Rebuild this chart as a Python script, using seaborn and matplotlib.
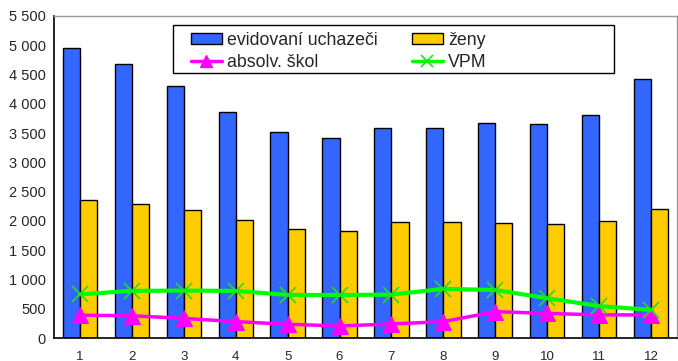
import matplotlib.pyplot as plt
import matplotlib.ticker as mticker
from matplotlib.lines import Line2D
from matplotlib.patches import Rectangle
import seaborn as sns
import numpy as np
import pandas as pd

# Data (months 1-12)
mesice = [str(m) for m in range(1, 13)]
evidovani = [4960, 4685, 4310, 3855, 3525, 3410, 3590, 3580, 3670, 3660, 3810, 4425]
zeny = [2350, 2295, 2185, 2015, 1865, 1835, 1985, 1985, 1970, 1955, 1995, 2210]
absolv = [390, 380, 335, 280, 235, 205, 240, 280, 450, 420, 395, 395]
vpm = [745, 805, 810, 805, 735, 735, 740, 840, 820, 680, 545, 480]

BLUE, YELLOW, MAGENTA, GREEN = "#3366FF", "#FFCC00", "#FF00FF", "#00FF00"

sns.set_style("white")
plt.rcParams['font.family'] = ['Liberation Sans', 'DejaVu Sans']

df = pd.DataFrame({
    "mesic": mesice * 2,
    "pocet": evidovani + zeny,
    "serie": ["evidovaní uchazeči"] * 12 + ["ženy"] * 12,
})

fig = plt.figure(figsize=(6.78, 3.61), dpi=100)
ax = fig.add_axes([0.0796, 0.0637, 0.919, 0.892])

sns.barplot(data=df, x="mesic", y="pocet", hue="serie",
            palette=[BLUE, YELLOW], saturation=1, width=0.66, gap=0,
            edgecolor="black", linewidth=1, ax=ax, legend=False)

sns.lineplot(x=mesice, y=absolv, color=MAGENTA, lw=2.5, marker="^",
             markersize=11, markeredgecolor=MAGENTA, ax=ax)
sns.lineplot(x=mesice, y=vpm, color=GREEN, lw=3, marker="x",
             markersize=12, markeredgewidth=1.2, markeredgecolor="#22DD22", ax=ax)

ax.set_xlim(-0.5, 11.5)
ax.set_ylim(0, 5500)
ax.yaxis.set_major_locator(mticker.MultipleLocator(500))
ax.yaxis.set_major_formatter(mticker.FuncFormatter(
    lambda v, p: f"{int(v):,}".replace(",", " ")))
ax.set_xlabel("")
ax.set_ylabel("")

# tick marks between categories, labels centred
ax.set_xticks(np.arange(-0.5, 12, 1), minor=True)
ax.tick_params(axis="x", which="major", length=0, pad=9, labelsize=9.5)
ax.tick_params(axis="x", which="minor", length=4, width=1, direction="out", color="black")
ax.tick_params(axis="y", which="major", length=4, width=1, direction="out",
               color="black", labelsize=10.5, pad=2)

for s in ["left", "bottom"]:
    ax.spines[s].set_color("black")
    ax.spines[s].set_linewidth(1.2)
for s in ["top", "right"]:
    ax.spines[s].set_color("#999999")
    ax.spines[s].set_linewidth(1)

# legend (Excel style: bars in first row, lines in second)
h_evid = Rectangle((0, 0), 1, 1, facecolor=BLUE, edgecolor="black")
h_zeny = Rectangle((0, 0), 1, 1, facecolor=YELLOW, edgecolor="black")
h_abs = Line2D([], [], color=MAGENTA, lw=2.5, marker="^", markersize=8)
h_vpm = Line2D([], [], color=GREEN, lw=2.5, marker="x", markersize=9,
               markeredgewidth=1.2, markeredgecolor="#22DD22")
handles = [h_evid, h_abs, h_zeny, h_vpm]
labels = ["evidovaní uchazeči", "absolv. škol", "ženy", "VPM"]
leg = ax.legend(handles, labels, ncol=2, loc="upper left",
                bbox_to_anchor=(0.197, 0.995), frameon=False,
                fontsize=12.8, handlelength=1.75, handleheight=0.6,
                handletextpad=0.3, columnspacing=1.9, labelspacing=0.3,
                borderpad=0.3)
# wide Excel-like legend frame
ax.add_patch(Rectangle((0.1915, 0.823), 0.7075, 0.149, transform=ax.transAxes,
                       facecolor="white", edgecolor="black", lw=1, zorder=4))
leg.set_zorder(5)

plt.savefig("out.png", dpi=100, facecolor="white")
